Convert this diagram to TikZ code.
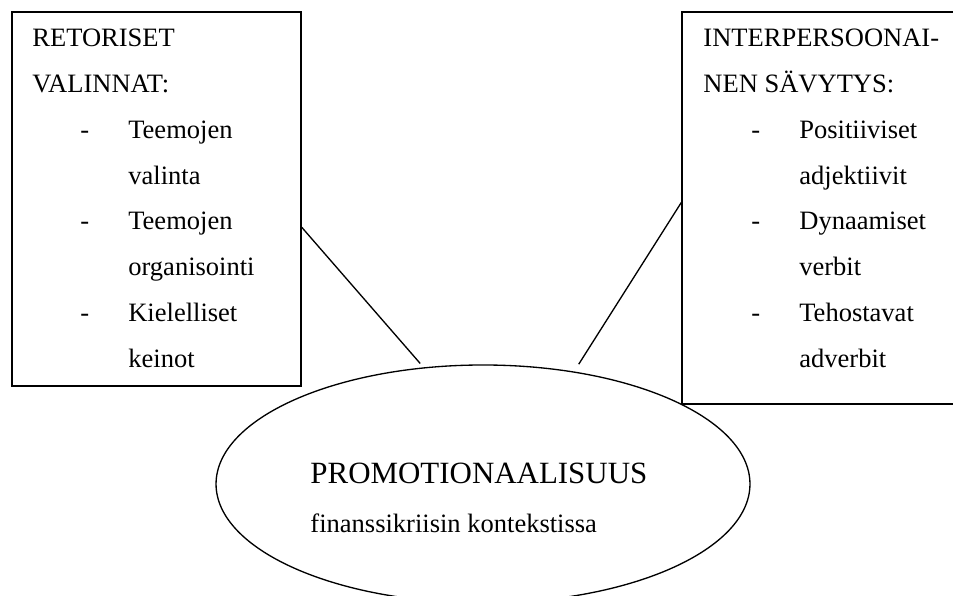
\documentclass[tikz,border=0pt]{standalone}
\usepackage{fontspec}
\setmainfont{Liberation Serif}
\usepackage{tikz}
\usetikzlibrary{positioning}
\usetikzlibrary{shapes.geometric}

\newlength{\dashind}
\setlength{\dashind}{21.7pt}
\newcommand{\listitem}[2]{\hspace*{\dashind}\makebox[\dashind][l]{-}#1\\\hspace*{2\dashind}#2}
\newcommand{\boxtext}[1]{\parbox[t]{140pt}{#1}}

\begin{document}
\begin{tikzpicture}[x=0.4525pt,y=-0.4525pt,every node/.style={inner sep=0pt},
    boxnode/.style={draw,rectangle,line width=0.6pt},
    boxlabel/.style={anchor=base west,font=\rmfamily\fontsize{12}{20.7}\selectfont},
    link/.style={line width=0.6pt}]
\useasboundingbox (0,0) rectangle (953,596);
\clip (0,0) rectangle (953,596);
\node[boxnode,minimum width=130.8pt,minimum height=169.2pt] (lbox) at (156.5,199) {};
\node[boxnode,minimum width=143.9pt,minimum height=177.4pt] (rbox) at (841,208) {};
\node[draw,ellipse,line width=0.6pt,minimum width=241.6pt,minimum height=107.7pt] (ell) at (483,484) {};
\node[boxlabel] (ltext) at (32,47) {\boxtext{RETORISET\\VALINNAT:\\
    \listitem{Teemojen}{valinta}\\\listitem{Teemojen}{organisointi}\\\listitem{Kielelliset}{keinot}}};
\node[boxlabel] (rtext) at (703,47) {\boxtext{INTERPERSOONAI-\\NEN SÄVYTYS:\\
    \listitem{Positiiviset}{adjektiivit}\\\listitem{Dynaamiset}{verbit}\\\listitem{Tehostavat}{adverbit}}};
\node[anchor=base west,font=\fontsize{14}{16}\selectfont] (title) at (310,483) {PROMOTIONAALISUUS};
\node[anchor=base west,font=\fontsize{12}{14}\selectfont] (subtitle) at ([yshift=-22.6pt]title.base west) {finanssikriisin kontekstissa};
\draw[link,shorten >=2.3pt] (lbox.-11.35) -- (ell.117.2);
\draw[link,shorten >=3.9pt] (rbox.178.2) -- (ell.51.9);
\end{tikzpicture}
\end{document}
